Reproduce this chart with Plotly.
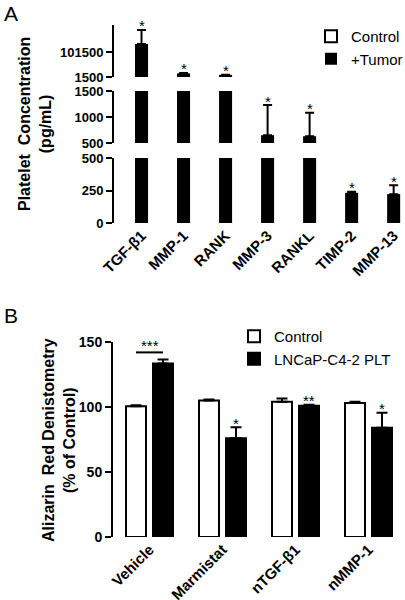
import plotly.graph_objects as go

# ---------------- data ----------------
catsA = ["TGF-β1", "MMP-1", "RANK", "MMP-3", "RANKL", "TIMP-2", "MMP-13"]
controlA = [None, None, None, None, None, None, None]
tumorA = [133500, 16000, 10000, 650, 630, 232, 222]
tumorA_err = [56000, 1500, 1000, 580, 450, 8, 69]
sigA = ["*", "*", "*", "*", "*", "*", "*"]

catsB = ["Vehicle", "Marmistat", "nTGF-β1", "nMMP-1"]
controlB = [100.5, 105, 104, 103]
controlB_err = [0.8, 0.8, 2.5, 1.0]
tumorB = [133.5, 76, 101, 84]
tumorB_err = [3.0, 8.5, 0.8, 11.5]
sigB = ["***", "*", "**", "*"]

# broken axis segments for panel A
segA_ranges = [[0, 500], [500, 1500], [1500, 209500]]
segA_ticks = [[0, 250, 500], [500, 1000, 1500], [1500, 101500]]

FONT = "Liberation Sans, Arial, sans-serif"
W, H = 405, 600


def px_x(p):
    return p / W


def px_y(p):
    return 1 - p / H


fig = go.Figure()

# ---------------- panel A ----------------
fig.add_trace(go.Bar(
    x=catsA, y=controlA, name="Control", xaxis="x", yaxis="y",
    marker=dict(color="white", line=dict(color="black", width=2)),
    width=0.31, offset=-0.155, legend="legend", showlegend=True,
))
yaxes_A = ["y", "y2", "y3"]
for i, ya in enumerate(yaxes_A):
    lo = segA_ranges[i][0]
    # only bars that reach into this segment of the broken axis
    seg_vals = [v if v > lo else None for v in tumorA]
    seg_err = [e if v > lo else None for v, e in zip(tumorA, tumorA_err)]
    fig.add_trace(go.Bar(
        x=catsA, y=seg_vals, name="+Tumor", xaxis="x", yaxis=ya,
        marker=dict(color="black", line=dict(width=0)),
        width=0.31, offset=-0.155,
        error_y=dict(type="data", array=seg_err,
                     arrayminus=[0] * len(seg_err), symmetric=False,
                     color="black", thickness=2, width=4.5),
        legend="legend", legendgroup="tumorA", showlegend=(i == 0),
    ))

# ---------------- panel B ----------------
fig.add_trace(go.Bar(
    x=catsB, y=controlB, name="Control", xaxis="x2", yaxis="y4",
    marker=dict(color="white", line=dict(color="black", width=2)),
    error_y=dict(type="data", array=controlB_err,
                 arrayminus=[0] * len(controlB_err), symmetric=False,
                 color="black", thickness=2, width=5.5),
    legend="legend2",
))
fig.add_trace(go.Bar(
    x=catsB, y=tumorB, name="LNCaP-C4-2 PLT", xaxis="x2", yaxis="y4",
    marker=dict(color="black", line=dict(color="black", width=2)),
    error_y=dict(type="data", array=tumorB_err,
                 arrayminus=[0] * len(tumorB_err), symmetric=False,
                 color="black", thickness=2, width=5.5),
    legend="legend2",
))

annotations = []
shapes = []
starfont = dict(family=FONT, size=15, color="black")

# significance stars panel A
for i, c in enumerate(catsA):
    top = tumorA[i] + tumorA_err[i]
    if top > segA_ranges[2][0]:
        ya = "y3"
    elif top > segA_ranges[1][0]:
        ya = "y2"
    else:
        ya = "y"
    annotations.append(dict(
        x=i, y=top, xref="x", yref=ya, text=sigA[i], showarrow=False,
        yanchor="middle", yshift=4, font=starfont))

# significance panel B
half = 0.185
for i, c in enumerate(catsB):
    if i == 0:
        ytop = max(controlB[i] + controlB_err[i], tumorB[i] + tumorB_err[i]) + 5.5
        shapes.append(dict(type="line", xref="x2", yref="y4",
                           x0=i - half, x1=i + half, y0=ytop, y1=ytop,
                           line=dict(color="black", width=2)))
        annotations.append(dict(
            x=i, y=ytop, xref="x2", yref="y4", text=sigB[i], showarrow=False,
            yanchor="middle", yshift=7, font=starfont))
    else:
        top = tumorB[i] + tumorB_err[i]
        annotations.append(dict(
            x=i + half, y=top, xref="x2", yref="y4", text=sigB[i], showarrow=False,
            yanchor="middle", yshift=4, font=starfont))

# panel letters and axis titles
annotations += [
    dict(x=px_x(2), y=px_y(0), xref="paper", yref="paper", xanchor="left", yanchor="top",
         text="A", showarrow=False, font=dict(family=FONT, size=21, color="black")),
    dict(x=px_x(2), y=px_y(302), xref="paper", yref="paper", xanchor="left", yanchor="top",
         text="B", showarrow=False, font=dict(family=FONT, size=21, color="black")),
    dict(x=px_x(35), y=px_y(124), xref="paper", yref="paper", xanchor="center", yanchor="middle",
         textangle=-90, text="Platelet  Concentration<br>(pg/mL)", showarrow=False,
         font=dict(family=FONT, size=16, color="black", weight="bold")),
    dict(x=px_x(59), y=px_y(440), xref="paper", yref="paper", xanchor="center", yanchor="middle",
         textangle=-90, text="Alizarin  Red Denistometry<br>(% of Control)", showarrow=False,
         font=dict(family=FONT, size=16, color="black", weight="bold")),
]


def yax_style(size):
    return dict(showline=True, linecolor="black", linewidth=2, ticks="outside",
                ticklen=6, tickwidth=2, tickcolor="black", showgrid=False,
                zeroline=False, tickformat="d", automargin=False,
                tickfont=dict(family=FONT, size=size, color="black", weight="bold"))


seg_px = [(223, 158), (143, 91), (77, 25)]

layout = dict(
    template="none",
    width=W, height=H, margin=dict(l=0, r=0, t=0, b=0, pad=0, autoexpand=False),
    paper_bgcolor="white", plot_bgcolor="white",
    barmode="group", bargap=0.26, bargroupgap=0.26,
    font=dict(family=FONT, color="black"),
    xaxis=dict(domain=[px_x(114), 1], range=[-0.655, 6.27], anchor="y",
               type="category", showline=False, ticks="", showgrid=False,
               tickangle=-45, automargin=False,
               tickfont=dict(family=FONT, size=15, color="black", weight="bold")),
    xaxis2=dict(domain=[px_x(113), 1], range=[-0.5, 3.5], anchor="y4",
                type="category", showline=False, ticks="", showgrid=False,
                tickangle=-45, automargin=False,
                tickfont=dict(family=FONT, size=15, color="black", weight="bold")),
    yaxis4=dict(domain=[px_y(537), px_y(342)], range=[0, 150],
                tickvals=[0, 50, 100, 150], anchor="x2", **yax_style(14)),
    legend=dict(x=px_x(311), y=px_y(20), xanchor="left", yanchor="top",
                font=dict(family=FONT, size=15, color="black"),
                bgcolor="rgba(0,0,0,0)", traceorder="normal", tracegroupgap=0),
    legend2=dict(x=px_x(234), y=px_y(320), xanchor="left", yanchor="top",
                 font=dict(family=FONT, size=15, color="black"),
                 bgcolor="rgba(0,0,0,0)", traceorder="normal"),
    annotations=annotations, shapes=shapes,
)
for k, name in enumerate(["yaxis", "yaxis2", "yaxis3"]):
    b, t = seg_px[k]
    layout[name] = dict(domain=[px_y(b), px_y(t)], range=segA_ranges[k],
                        tickvals=segA_ticks[k], anchor="x", **yax_style(13))

fig.update_layout(**layout)
fig.write_html("out.html", config={"displayModeBar": False},
               post_script="document.body.style.margin='0';")
